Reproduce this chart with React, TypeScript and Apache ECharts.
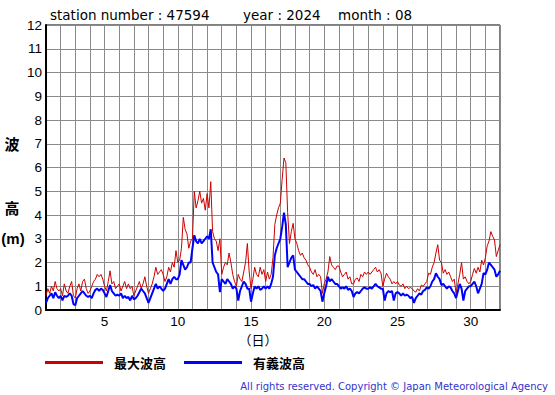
import React, { useEffect, useRef } from "react";
import * as echarts from "echarts";

// Time axis: day of month (1.0 = Aug 1 00:00), values every 3 hours
const DAY_START = 1;
const STEPS_PER_DAY = 8;
const xTickLabels = [5, 10, 15, 20, 25, 30];
const seriesNames = ["最大波高", "有義波高"];

// 最大波高 (max wave height, m)
const maxWave = [
  0.6, 0.9, 0.7, 1.0, 0.8, 1.2, 0.9, 0.8,
  0.9, 0.6, 1.1, 0.8, 0.7, 1.0, 1.2, 0.6,
  0.5, 0.9, 1.1, 0.8, 1.2, 1.3, 0.9, 0.7,
  0.8, 1.0, 1.2, 1.3, 1.5, 1.4, 1.5, 1.3,
  1.0, 0.8, 1.2, 1.65, 1.1, 1.2, 0.9, 1.0,
  1.1, 0.8, 1.0, 1.2, 0.9, 1.1, 0.9, 1.0,
  0.6, 0.8, 1.0, 1.2, 0.9, 1.1, 1.4, 1.0,
  0.7, 0.9, 1.1, 1.4, 1.8, 1.5, 1.6, 1.7,
  1.5, 1.2, 1.4, 1.8, 1.6, 2.0, 1.8, 2.5,
  2.0, 2.1, 2.6, 3.9, 3.4, 3.2, 2.6, 2.9,
  3.0, 5.0, 4.3, 4.6, 5.0, 4.5, 4.7, 4.2,
  4.9, 4.3, 5.4, 3.3, 3.0, 2.9, 2.5, 3.0,
  1.5, 1.8, 2.0, 1.9, 2.4, 2.0, 1.5, 1.2,
  1.0, 1.5, 1.3, 1.2, 1.6, 2.0, 2.8, 1.6,
  0.9, 1.3, 1.8, 1.5, 1.4, 1.8, 1.5, 1.7,
  1.2, 1.6, 1.3, 1.5, 2.2, 3.6, 4.0, 4.3,
  4.5, 5.5, 6.4, 6.2, 4.1, 2.8, 3.3, 3.65,
  3.0, 2.8, 2.5, 2.3, 2.4, 2.2, 2.1, 1.9,
  1.8, 1.6, 1.5, 1.7, 1.4, 1.5, 1.4, 0.7,
  1.1, 1.3, 1.6, 2.25, 1.9, 1.8, 1.7, 1.85,
  1.85, 1.6, 1.4, 1.5, 1.6, 1.3, 1.4, 1.1,
  1.1, 1.3, 1.35, 1.2, 1.5, 1.4, 1.6, 1.5,
  1.6, 1.5, 1.6, 1.7, 1.8, 1.6, 1.7, 1.55,
  1.0, 1.3, 1.55, 1.4, 1.3, 1.1, 1.2, 1.1,
  1.2, 1.05, 1.0, 1.1, 0.9, 1.0, 0.9, 0.95,
  0.9, 0.8, 0.75, 0.9, 0.8, 1.05, 1.0, 1.1,
  1.2, 1.55, 1.5, 1.8, 2.0, 2.4, 2.75, 2.1,
  2.0, 1.55, 1.7, 1.5, 1.6, 1.4, 1.2, 1.3,
  0.7, 1.1, 1.5, 2.0, 1.3, 1.4, 1.2, 1.1,
  1.2, 1.5, 1.75, 1.55, 1.8, 1.6, 2.1, 1.9,
  2.2, 2.7, 2.9, 3.3, 3.1, 2.95, 2.25, 2.5,
  2.75,
];

// 有義波高 (significant wave height, m)
const sigWave = [
  0.3, 0.5, 0.6, 0.7, 0.5, 0.75, 0.6, 0.5,
  0.6, 0.4, 0.6, 0.55, 0.6, 0.7, 0.6, 0.25,
  0.2, 0.5, 0.6, 0.7, 0.8, 0.7, 0.6, 0.55,
  0.6, 0.5, 0.7, 0.85, 0.9, 0.8, 0.9, 0.85,
  0.7, 0.55, 0.8, 1.05, 0.8, 0.7, 0.6, 0.65,
  0.6, 0.7, 0.5, 0.6, 0.5, 0.55, 0.4, 0.6,
  0.45, 0.5, 0.6, 0.75, 0.9, 0.8, 0.7, 0.5,
  0.3, 0.5, 0.7, 0.9, 1.1, 0.9, 1.0, 0.9,
  0.8, 0.9, 1.1, 1.3, 1.1, 1.3, 1.4, 1.3,
  1.3, 1.5, 2.1, 1.9, 1.7, 1.8, 2.0, 2.0,
  2.6, 3.15, 2.9, 2.8, 3.0, 2.8, 2.9, 3.0,
  3.1, 3.0, 3.4, 2.0, 1.8, 1.6, 1.5, 0.75,
  1.3, 1.2, 1.1, 1.3, 1.2, 1.1, 0.9, 1.0,
  0.9, 0.4, 0.8, 1.0, 1.2, 1.1, 0.9, 0.9,
  0.35, 0.7, 1.0, 0.9, 1.0, 0.85, 0.9, 1.0,
  0.9, 1.0, 0.9, 1.1, 1.4, 2.3, 2.6, 2.8,
  3.0, 3.5, 4.1, 3.6, 1.8, 2.0, 2.2, 2.3,
  1.7, 1.6, 1.5, 1.4, 1.3, 1.3, 1.2, 1.1,
  1.1, 1.0, 1.05, 0.9, 1.0, 0.9, 0.8, 0.35,
  0.7, 1.0, 1.4, 1.2, 1.3, 1.2, 1.1, 1.1,
  1.0, 0.9, 0.95, 0.9, 1.0, 0.85, 0.9, 0.8,
  0.55, 0.7, 0.75, 0.7, 0.8, 0.9, 0.95, 0.9,
  0.9, 0.95, 0.9, 1.0, 1.1, 1.0, 0.95, 0.9,
  0.9, 0.4, 0.7, 0.8, 0.75, 0.8, 0.4, 0.7,
  0.75, 0.7, 0.6, 0.7, 0.6, 0.65, 0.6, 0.5,
  0.55, 0.3, 0.5, 0.6, 0.7, 0.65, 0.8, 0.85,
  0.95, 0.9, 1.0, 1.2, 1.3, 1.55, 1.4, 1.3,
  1.05, 1.1, 1.0, 0.9, 1.0, 0.95, 0.8, 0.7,
  0.5, 0.8, 1.1, 0.9, 0.4, 0.8, 0.9, 1.0,
  1.0, 1.1, 1.2, 1.0, 0.7, 0.9, 1.1, 1.55,
  1.5, 1.7, 2.0, 1.9, 1.8, 1.7, 1.4, 1.5,
  1.65,
];

const toPairs = (arr: number[]) =>
  arr.map((v, i) => [DAY_START + i / STEPS_PER_DAY, v]);

export default function App() {
  const ref = useRef<HTMLDivElement>(null);

  useEffect(() => {
    if (!ref.current) return;
    const chart = echarts.init(ref.current, null, { renderer: "svg" });
    const tickFont = { fontFamily: "Liberation Sans", fontSize: 13.5, color: "#000" };
    chart.setOption({
      animation: false,
      backgroundColor: "#fff",
      grid: {
        left: 46,
        top: 25,
        width: 454,
        height: 285,
        show: true,
        borderColor: "#000",
        borderWidth: 1,
      },
      xAxis: {
        type: "value",
        min: 1,
        max: 32,
        interval: 1,
        axisLine: { show: true, lineStyle: { color: "#000", width: 2 } },
        axisTick: { show: false },
        axisLabel: {
          ...tickFont,
          margin: 4,
          showMinLabel: false,
          showMaxLabel: false,
          formatter: (v: number) => (xTickLabels.includes(v) ? String(v) : ""),
        },
        splitLine: { show: true, lineStyle: { color: "#8a8a8a", width: 1 } },
      },
      yAxis: {
        type: "value",
        min: 0,
        max: 12,
        interval: 1,
        axisLine: { show: true, lineStyle: { color: "#000", width: 2 } },
        axisTick: { show: false },
        axisLabel: { ...tickFont, margin: 4 },
        splitLine: { show: true, lineStyle: { color: "#8a8a8a", width: 1 } },
      },
      legend: {
        data: seriesNames,
        left: 45,
        top: 356,
        padding: 0,
        icon: "rect",
        itemWidth: 58,
        itemHeight: 3,
        itemGap: 18,
        selectedMode: false,
        textStyle: {
          fontFamily: "Noto Sans CJK JP",
          fontWeight: "bold",
          fontSize: 13,
          color: "#000",
          padding: [0, 0, 0, 6],
        },
      },
      series: [
        {
          name: seriesNames[0],
          type: "line",
          data: toPairs(maxWave),
          showSymbol: false,
          color: "#cc0000",
          lineStyle: { color: "#cc0000", width: 1 },
          emphasis: { disabled: true },
          z: 3,
        },
        {
          name: seriesNames[1],
          type: "line",
          data: toPairs(sigWave),
          showSymbol: false,
          color: "#0000ff",
          lineStyle: { color: "#0000ff", width: 2 },
          emphasis: { disabled: true },
          z: 4,
        },
      ],
      graphic: [
        {
          type: "text",
          x: 50,
          y: 15,
          style: {
            text: "station number : 47594",
            fontFamily: "DejaVu Sans",
            fontSize: 13.5,
            fill: "#000",
            verticalAlign: "middle",
          },
        },
        {
          type: "text",
          x: 243,
          y: 15,
          style: {
            text: "year : 2024",
            fontFamily: "DejaVu Sans",
            fontSize: 13.5,
            fill: "#000",
            verticalAlign: "middle",
          },
        },
        {
          type: "text",
          x: 338,
          y: 15,
          style: {
            text: "month : 08",
            fontFamily: "DejaVu Sans",
            fontSize: 13.5,
            fill: "#000",
            verticalAlign: "middle",
          },
        },
        {
          type: "text",
          x: 12,
          y: 143,
          style: {
            text: "波",
            fontFamily: "Noto Sans CJK JP",
            fontWeight: "bold",
            fontSize: 15,
            fill: "#000",
            align: "center",
            verticalAlign: "middle",
          },
        },
        {
          type: "text",
          x: 12,
          y: 207,
          style: {
            text: "高",
            fontFamily: "Noto Sans CJK JP",
            fontWeight: "bold",
            fontSize: 15,
            fill: "#000",
            align: "center",
            verticalAlign: "middle",
          },
        },
        {
          type: "text",
          x: 13,
          y: 238,
          style: {
            text: "(m)",
            fontFamily: "Liberation Sans",
            fontWeight: "bold",
            fontSize: 15,
            fill: "#000",
            align: "center",
            verticalAlign: "middle",
          },
        },
        {
          type: "text",
          x: 258,
          y: 339,
          style: {
            text: "（日）",
            fontFamily: "Noto Sans CJK JP",
            fontSize: 13,
            fill: "#000",
            align: "center",
            verticalAlign: "middle",
          },
        },
        {
          type: "text",
          x: 548,
          y: 386,
          style: {
            text: "All rights reserved. Copyright © Japan Meteorological Agency",
            fontFamily: "DejaVu Sans",
            fontSize: 10,
            fill: "#3333cc",
            align: "right",
            verticalAlign: "middle",
          },
        },
      ],
    });
    return () => chart.dispose();
  }, []);

  return (
    <div
      ref={ref}
      style={{
        position: "fixed",
        left: 0,
        top: 0,
        width: 555,
        height: 395,
        background: "#fff",
      }}
    />
  );
}
